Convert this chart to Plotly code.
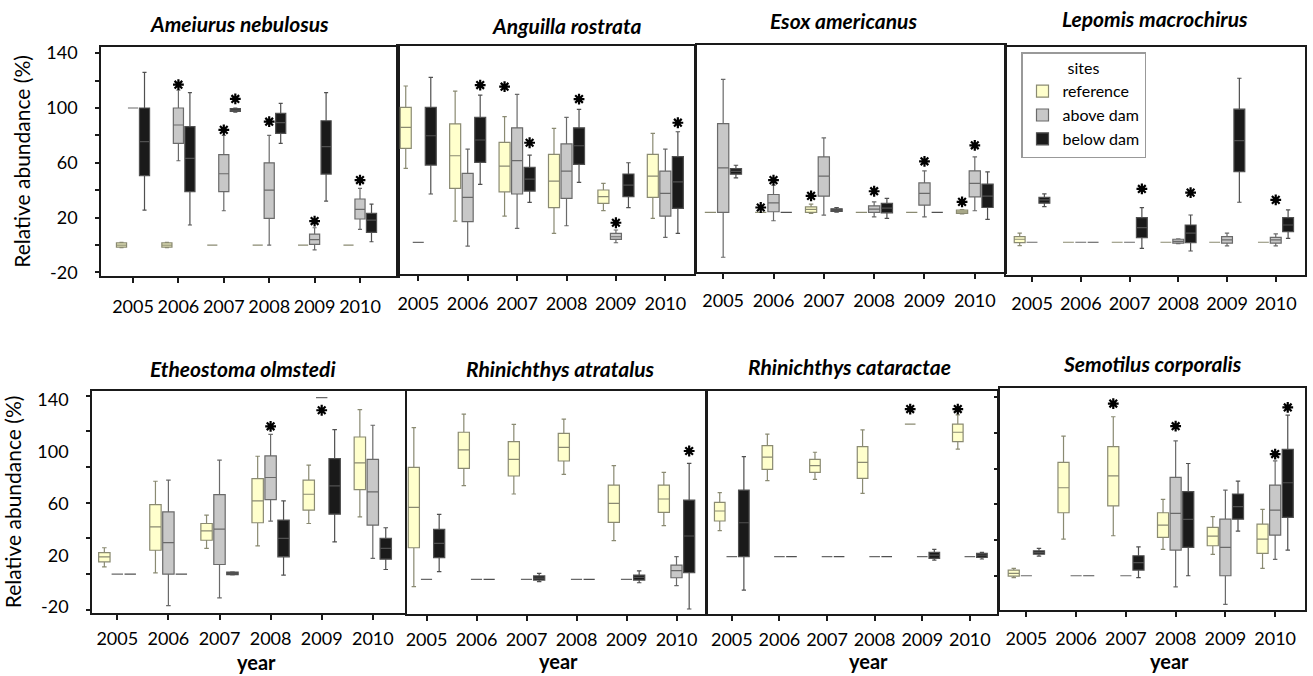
import plotly.graph_objects as go

W, H = 1313, 676
YEARS = ["2005", "2006", "2007", "2008", "2009", "2010"]
SITES = ["reference", "above dam", "below dam"]

# each row per year: (lower whisker, q1, median, q3, upper whisker, outlier or None)
Z = (0, 0, 0, 0, 0, None)

AMEIURUS_REF = [(-2, -1.5, 0, 1.5, 2, None), (-2, -1.5, 0, 1.5, 2, None), Z, Z, Z, Z]
AMEIURUS_ABOVE = [(100, 100, 100, 100, 100, None), (61.5, 74.2, 87.6, 100, 113, 117),
                  (25, 39, 52, 66, 80, 84), (0, 19.5, 40, 60, 80, 90),
                  (-3.6, 0.5, 4, 8, 12.6, 17.5), (11.4, 19, 26, 33.6, 41.4, 47.4)]
AMEIURUS_BELOW = [(25.5, 50.6, 75.4, 100, 126, None), (14.6, 38.9, 63.3, 86.4, 111.2, None),
                  (97, 97.5, 98.5, 99.5, 100, 106.6), (74.2, 81.5, 89.3, 96.1, 103.4, None),
                  (32.1, 51.8, 71.8, 90.7, 111.2, None), (2.4, 9.2, 18.2, 23.1, 29.9, None)]

ANGUILLA_REF = [(54, 68.6, 83.9, 98.5, 114.1, None), (15.5, 39.4, 63.2, 86.4, 110.4, None),
                (19.2, 36.9, 55.7, 73, 91.7, 113.6), (6.6, 25.3, 44.7, 64.2, 83.2, None),
                (23.1, 28.5, 33.3, 38.2, 43.1, None), (17.5, 32.8, 48.4, 64.2, 79.6, None)]
ANGUILLA_ABOVE = [Z, (-2.7, 15.1, 32.8, 50.4, 68.1, None), (10.2, 35.3, 59.6, 83.6, 108, None),
                  (12.1, 32.1, 52, 71.8, 91.2, None), (-0.3, 2.2, 4.1, 6.6, 9, 14.3),
                  (3.6, 19.2, 35.8, 52, 68.1, None)]
ANGUILLA_BELOW = [(35.3, 56.4, 77.8, 98.5, 120.4, None), (42.3, 58.4, 74.7, 91.2, 107.5, 114.8),
                  (29.2, 37.4, 46.2, 54.7, 63.7, 72.7), (43.8, 56.9, 70.5, 83.6, 97, 104.6),
                  (25.3, 33.3, 41.8, 49.9, 58.1, None), (6.6, 24.8, 44.2, 62.5, 80.7, 87.3)]

ESOX_REF = [Z, (0, 0, 0, 0, 0, 3.6), (-0.7, 0, 2.2, 4.1, 6.1, 12.1), Z, Z,
            (-1, -0.7, 0.4, 1.7, 2, 7.7)]
ESOX_ABOVE = [(-32.8, 0, 32.6, 65, 97.3, None), (-6.1, 0.5, 7, 13.1, 19.9, 23.6),
              (-2, 11.9, 26.5, 40.6, 54.5, None), (-3.2, 0, 2.4, 4.8, 7.7, 15.5),
              (-3.2, 5.3, 13.9, 21.6, 30.4, 37.4), (1.2, 11.4, 21.2, 30.4, 40.6, 49.1)]
ESOX_BELOW = [(25.3, 28, 30.1, 32.1, 34.5, None), Z, (0.2, 0.7, 1.7, 2.6, 3.6, None),
              (-4.4, -0.3, 3.1, 6.6, 10.2, None), Z, (-5.1, 3.6, 11.9, 20.7, 29.6, None)]

LEPOMIS_REF = [(-2.5, -0.3, 2.2, 4.1, 6.6, None), Z, Z, Z, Z, Z]
LEPOMIS_ABOVE = [Z, Z, Z, (-1, -0.7, 0.7, 2.2, 2.5, None), (-2.7, -0.7, 1.7, 4.1, 6.6, None),
                 (-2.7, -0.7, 1.7, 3.6, 6.1, 30.9)]
LEPOMIS_BELOW = [(26, 28.5, 30.9, 32.8, 35.3, None), Z, (-4.4, 3.4, 10.7, 18, 25.3, 38.9),
                 (-6.4, -0.3, 6.6, 12.6, 19.9, 36.2), (29.2, 51.5, 74.2, 97.1, 119.7, None),
                 (2.9, 7.7, 12.6, 18, 23.6, None)]

ETHEOSTOMA_REF = [(4.1, 6.9, 9.7, 12.1, 14.8, None), (0.7, 13.4, 26.5, 39, 52.1, None),
                  (14.4, 19, 24.3, 28.4, 33.1, None), (15.9, 28.8, 41.1, 53.6, 66.1, None),
                  (28.4, 35.9, 44.8, 52.7, 61.1, None), (32.1, 47.4, 62.4, 76.9, 92.2, None)]
ETHEOSTOMA_ABOVE = [Z, (-17.7, 0, 17.7, 34.9, 52.7, None), (-13.3, 5.4, 25.2, 44.6, 63.9, None),
                    (29.7, 41.8, 54.2, 66.3, 78.4, 82.9), (99, 99, 99, 99, 99, 91.9),
                    (8.8, 27.5, 46.1, 64.4, 83.5, None)]
ETHEOSTOMA_BELOW = [Z, Z, (-0.5, -0.3, 0.4, 1.1, 1.3, None), (-0.6, 9.7, 20, 30.3, 41.1, None),
                    (18.1, 33.6, 49.5, 64.8, 81, None), (2.6, 8.4, 14.4, 20, 26, None)]

ATRATALUS_REF = [(-4.1, 17.7, 40.3, 62.7, 85, None), (52.5, 62.2, 72.5, 82.4, 92.6, None),
                 (47.8, 57.9, 67.2, 77.1, 86.8, None), (58.8, 66.3, 73.9, 81.8, 89.8, None),
                 (21.7, 31.9, 42.6, 52.8, 63.7, None), (30.1, 37.5, 45, 52.8, 59.9, None)]
ATRATALUS_ABOVE = [Z, Z, Z, Z, Z, (-3.5, 0.9, 4.9, 8, 12.7, None)]
ATRATALUS_BELOW = [(4.3, 12.1, 20.2, 28, 36.4, None), Z, (-1.3, -0.4, 0.7, 1.9, 3.4, None), Z,
                   (-1.9, -0.4, 1.1, 2.4, 4.7, None), (-16.6, 3.7, 24.3, 44.4, 65, 71.9)]

CATARACTAE_REF = [(14.6, 20, 25.6, 30.4, 35.9, None), (42.6, 48.9, 55.8, 62.2, 68.7, None),
                  (43.3, 47.2, 51, 54.5, 58.5, None), (35.5, 43.9, 52.8, 61.6, 71, None),
                  (74.3, 74.3, 74.3, 74.3, 74.3, 82.7), (60.3, 64.4, 69.7, 74.3, 79.4, 82.7)]
CATARACTAE_ABOVE = [Z, Z, Z, Z, Z, Z]
CATARACTAE_BELOW = [(-18.7, 0, 19, 37.3, 56, None), Z, Z, Z,
                    (-1.9, -0.9, 0.9, 2.4, 4.1, None), (-1.3, -0.4, 0.9, 1.9, 2.4, None)]

SEMOTILUS_REF = [(-1.1, -0.2, 1.3, 3.2, 4.1, None), (20.5, 35.3, 49.3, 63.5, 78.2, None),
                 (22.4, 39.2, 56, 72.3, 89.1, 96.5), (14.8, 21.5, 28.4, 35.3, 42.8, None),
                 (12, 16.8, 22.2, 27.1, 33.1, None), (4.1, 12.5, 20.5, 28.9, 37.2, None)]
SEMOTILUS_ABOVE = [Z, Z, Z, (-6.2, 14.4, 34.9, 55.1, 75.6, 83.8), (-16.1, 0, 15.9, 31.7, 48, None),
                   (9.2, 22.8, 36.8, 50.8, 64.4, 68.2)]
SEMOTILUS_BELOW = [(11, 12.1, 13.1, 14, 15.3, None), Z, (-1.1, 3.2, 7.3, 11.2, 16.2, None),
                   (0, 15.9, 31.6, 47.1, 62.9, None), (25, 31.7, 38.7, 45.8, 53, None),
                   (14.4, 32.7, 52.1, 70.8, 90, 94.3)]

SPECIES = ["Ameiurus nebulosus", "Anguilla rostrata", "Esox americanus", "Lepomis macrochirus",
           "Etheostoma olmstedi", "Rhinichthys atratalus", "Rhinichthys cataractae",
           "Semotilus corporalis"]
SERIES = [
    (AMEIURUS_REF, AMEIURUS_ABOVE, AMEIURUS_BELOW),
    (ANGUILLA_REF, ANGUILLA_ABOVE, ANGUILLA_BELOW),
    (ESOX_REF, ESOX_ABOVE, ESOX_BELOW),
    (LEPOMIS_REF, LEPOMIS_ABOVE, LEPOMIS_BELOW),
    (ETHEOSTOMA_REF, ETHEOSTOMA_ABOVE, ETHEOSTOMA_BELOW),
    (ATRATALUS_REF, ATRATALUS_ABOVE, ATRATALUS_BELOW),
    (CATARACTAE_REF, CATARACTAE_ABOVE, CATARACTAE_BELOW),
    (SEMOTILUS_REF, SEMOTILUS_ABOVE, SEMOTILUS_BELOW),
]
Y_TICK_LABELS = [-20, 20, 60, 100, 140]

# ---------- styling / layout (pixels) ----------
PANEL_PX = [(101, 398, 47, 276), (398, 694, 46, 274), (697, 1005, 45, 272), (1006, 1305, 47, 275),
            (92, 405, 391, 613), (407, 705, 391, 614), (708, 997, 391, 614), (1000, 1305, 388, 610)]
X_RANGES = [[-0.705, 5.837], [-0.41, 5.58], [-0.52, 5.6], [-0.534, 5.6],
            [-0.495, 5.63], [-0.39, 5.57], [-0.5, 5.57], [-0.53, 5.6]]
Y_RANGES = [[-22.6, 144.5], [-23.1, 143.3], [-43.6, 122.5], [-23.9, 142.5],
            [-21.8, 102.7], [-19.4, 105.5], [-32.1, 92.8], [-19.2, 105.2]]
TITLE_PX = [(239, 24), (566, 25), (843, 21), (1155, 19), (243, 369), (560, 369), (849, 366), (1152, 363)]
YEAR_LABEL_PX = [(256, 662), (558, 661), (868, 661), (1169, 661)]
XTICK_STANDOFF = [9, 8, 7, 7, 4, 4, 4, 7]

FILL = {"reference": "#FFFFCC", "above dam": "#C8C8C8", "below dam": "#1A1A1A"}
LINE = {"reference": "#8A8A72", "above dam": "#6A6A6A", "below dam": "#505050"}
FONT = "Lato, 'Open Sans', Arial, sans-serif"
AXCOL = "#1a1a1a"
GAP, GROUPGAP = 0.24, 0.12

fig = go.Figure()
for p, series in enumerate(SERIES):
    sfx = "" if p == 0 else str(p + 1)
    for k, (site, rows) in enumerate(zip(SITES, series)):
        fig.add_trace(go.Box(
            name=site, legendgroup=site, showlegend=(p == 0),
            x=YEARS, offsetgroup=str(k), alignmentgroup="a" + sfx,
            lowerfence=[r[0] for r in rows], q1=[r[1] for r in rows],
            median=[r[2] for r in rows], q3=[r[3] for r in rows],
            upperfence=[r[4] for r in rows],
            boxpoints=False,
            fillcolor=FILL[site], line=dict(color=LINE[site], width=1.2),
            whiskerwidth=0.4, hoverinfo="skip",
            xaxis="x" + sfx, yaxis="y" + sfx,
        ))
    for k, (site, rows) in enumerate(zip(SITES, series)):
        fig.add_trace(go.Scatter(
            name=site + " outliers", showlegend=False, mode="markers",
            x=YEARS, y=[r[5] for r in rows], offsetgroup=str(k), alignmentgroup="a" + sfx,
            marker=dict(symbol="asterisk-open", size=9, color="black",
                        line=dict(color="black", width=2.2)),
            xaxis="x" + sfx, yaxis="y" + sfx, cliponaxis=False,
        ))

layout = dict(
    width=W, height=H, margin=dict(l=0, r=0, t=0, b=0),
    paper_bgcolor="white", plot_bgcolor="white",
    boxmode="group", boxgap=GAP, boxgroupgap=GROUPGAP,
    scattermode="group", scattergap=GAP,
    font=dict(family=FONT, color="black", size=16),
    legend=dict(x=1021 / W, y=1 - 52 / H, xanchor="left", yanchor="top",
                bgcolor="white", bordercolor="#999999", borderwidth=1.5,
                font=dict(size=16, family=FONT), itemwidth=30, tracegroupgap=0,
                title=dict(text="sites", side="top center", font=dict(size=16, family=FONT))),
    annotations=[],
)

# bottom row: tick labels drawn where the reference prints them
BOTTOM_LABEL_SCALE, BOTTOM_LABEL_SHIFT = 0.725, -3.92

for p in range(8):
    sfx = "" if p == 0 else str(p + 1)
    l, r, t, b = PANEL_PX[p]
    xa = dict(domain=[l / W, r / W], anchor="y" + sfx, type="category",
              categoryorder="array", categoryarray=YEARS, automargin=False,
              range=X_RANGES[p], showline=True, mirror=True, linecolor=AXCOL, linewidth=1.5,
              ticks="outside", ticklen=5, tickwidth=1.5, tickcolor=AXCOL, tickangle=0,
              tickfont=dict(size=18, family=FONT), ticklabelstandoff=XTICK_STANDOFF[p],
              showgrid=False, zeroline=False, fixedrange=True)
    ya = dict(domain=[1 - b / H, 1 - t / H], anchor="x" + sfx, range=Y_RANGES[p], automargin=False,
              showline=True, mirror=True, linecolor=AXCOL, linewidth=1.5,
              showgrid=False, zeroline=False, showticklabels=False, ticks="", fixedrange=True)
    if p == 0:
        ya.update(tickmode="array", tickvals=Y_TICK_LABELS, ticktext=[str(v) for v in Y_TICK_LABELS],
                  showticklabels=True, ticks="outside", ticklen=4, tickwidth=1.5, tickcolor=AXCOL,
                  tickfont=dict(size=18, family=FONT), ticklabelstandoff=14,
                  minor=dict(tickmode="linear", tick0=0, dtick=20, ticks="outside", ticklen=4,
                             tickwidth=1.5, tickcolor=AXCOL),
                  title=dict(text="Relative abundance (%)", font=dict(size=21, family=FONT), standoff=10))
    elif p == 4:
        ya.update(tickmode="array",
                  tickvals=[BOTTOM_LABEL_SCALE * v + BOTTOM_LABEL_SHIFT for v in Y_TICK_LABELS],
                  ticktext=[str(v) for v in Y_TICK_LABELS],
                  showticklabels=True, ticks="", tickfont=dict(size=18, family=FONT),
                  ticklabelstandoff=18,
                  minor=dict(tickmode="linear", tick0=0, dtick=20, ticks="outside", ticklen=4,
                             tickwidth=1.5, tickcolor=AXCOL),
                  title=dict(text="Relative abundance (%)", font=dict(size=21, family=FONT), standoff=10))
    elif p == 7:
        ya.update(tickmode="linear", tick0=0, dtick=20, ticks="outside", ticklen=4,
                  tickwidth=1.5, tickcolor=AXCOL)
    layout["xaxis" + sfx] = xa
    layout["yaxis" + sfx] = ya
    tx, ty = TITLE_PX[p]
    layout["annotations"].append(dict(
        text="<b><i>%s</i></b>" % SPECIES[p], x=tx / W, y=1 - ty / H, xref="paper", yref="paper",
        xanchor="center", yanchor="middle", showarrow=False, font=dict(size=21, family=FONT)))

for (yx, yy) in YEAR_LABEL_PX:
    layout["annotations"].append(dict(
        text="<b>year</b>", x=yx / W, y=1 - yy / H, xref="paper", yref="paper",
        xanchor="center", yanchor="middle", showarrow=False, font=dict(size=20, family=FONT)))

fig.update_layout(**layout)
fig.write_html("out.html", config={"displayModeBar": False},
               post_script="document.body.style.margin='0';")
